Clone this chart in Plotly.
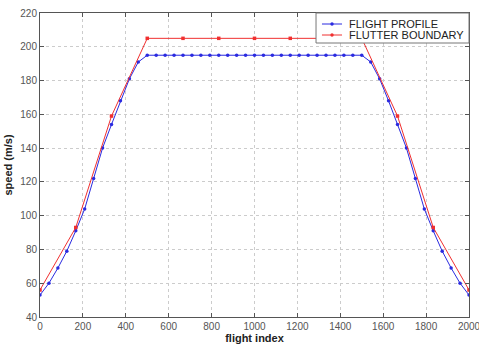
import plotly.graph_objects as go

# Flight profile (blue) - sampled every 2000/48
profile_x = [i * 2000 / 48 for i in range(49)]
profile_y = [53, 60, 69, 79, 91, 104, 122, 140, 154, 168, 181, 191,
             195, 195, 195, 195, 195, 195, 195, 195, 195, 195, 195, 195, 195,
             195, 195, 195, 195, 195, 195, 195, 195, 195, 195, 195, 195,
             191, 181, 168, 154, 140, 122, 104, 91, 79, 69, 60, 53]

# Flutter boundary (red)
boundary_x = [i * 2000 / 12 for i in range(13)]
boundary_y = [56, 93, 159, 205, 205, 205, 205, 205, 205, 205, 159, 93, 56]

series_names = ["FLIGHT PROFILE", "FLUTTER BOUNDARY"]
series_colors = ["#2a2ae0", "#f03030"]

x_ticks = [0, 200, 400, 600, 800, 1000, 1200, 1400, 1600, 1800, 2000]
y_ticks = [40, 60, 80, 100, 120, 140, 160, 180, 200, 220]

font = "Liberation Sans, Arial, sans-serif"

fig = go.Figure()
fig.add_trace(go.Scatter(
    x=profile_x, y=profile_y, mode="lines+markers", name=series_names[0],
    line=dict(color=series_colors[0], width=1),
    marker=dict(color=series_colors[0], size=3.5, symbol="circle"),
))
fig.add_trace(go.Scatter(
    x=boundary_x, y=boundary_y, mode="lines+markers", name=series_names[1],
    line=dict(color=series_colors[1], width=1),
    marker=dict(color=series_colors[1], size=3.5, symbol="square"),
))

axis_common = dict(
    showline=True, linecolor="#555555", linewidth=1, mirror="ticks",
    ticks="inside", ticklen=4, tickcolor="#555555",
    showgrid=True, gridcolor="#cccccc", gridwidth=1, griddash="dot",
    zeroline=False, automargin=False, ticklabeloverflow="allow",
    tickfont=dict(family=font, size=10, color="#555555"),
)

# Compact MATLAB-style legend box (top right, inside the axes)
shapes = [dict(type="rect", xref="paper", yref="paper",
               x0=0.6434, x1=1.0, y0=0.9013, y1=1.0,
               line=dict(color="#777777", width=1), fillcolor="white", layer="above")]
annotations = []
row_y = [0.9638, 0.9276]
for name, color, ry in zip(series_names, series_colors, row_y):
    shapes.append(dict(type="line", xref="paper", yref="paper",
                       x0=0.6573, x1=0.7040, y0=ry, y1=ry,
                       line=dict(color=color, width=1), layer="above"))
    shapes.append(dict(type="circle", xref="paper", yref="paper",
                       x0=0.6807 - 0.0040, x1=0.6807 + 0.0040,
                       y0=ry - 0.0055, y1=ry + 0.0055,
                       line=dict(color=color, width=0), fillcolor=color, layer="above"))
    annotations.append(dict(text=name, xref="paper", yref="paper",
                            x=0.7156, y=ry, xanchor="left", yanchor="middle",
                            showarrow=False,
                            font=dict(family=font, size=11, color="#222222")))

fig.update_layout(
    width=479, height=347,
    margin=dict(l=40, r=10, t=13, b=30),
    paper_bgcolor="white", plot_bgcolor="white",
    showlegend=False,
    shapes=shapes, annotations=annotations,
    xaxis=dict(range=[0, 2000], tickvals=x_ticks, **axis_common,
               title=dict(text="<b>flight index</b>", standoff=0,
                          font=dict(family=font, size=11, color="#222222"))),
    yaxis=dict(range=[40, 220], tickvals=y_ticks, **axis_common,
               title=dict(text="<b>speed (m/s)</b>", standoff=5,
                          font=dict(family=font, size=11, color="#222222"))),
)

fig.write_html("out.html")
